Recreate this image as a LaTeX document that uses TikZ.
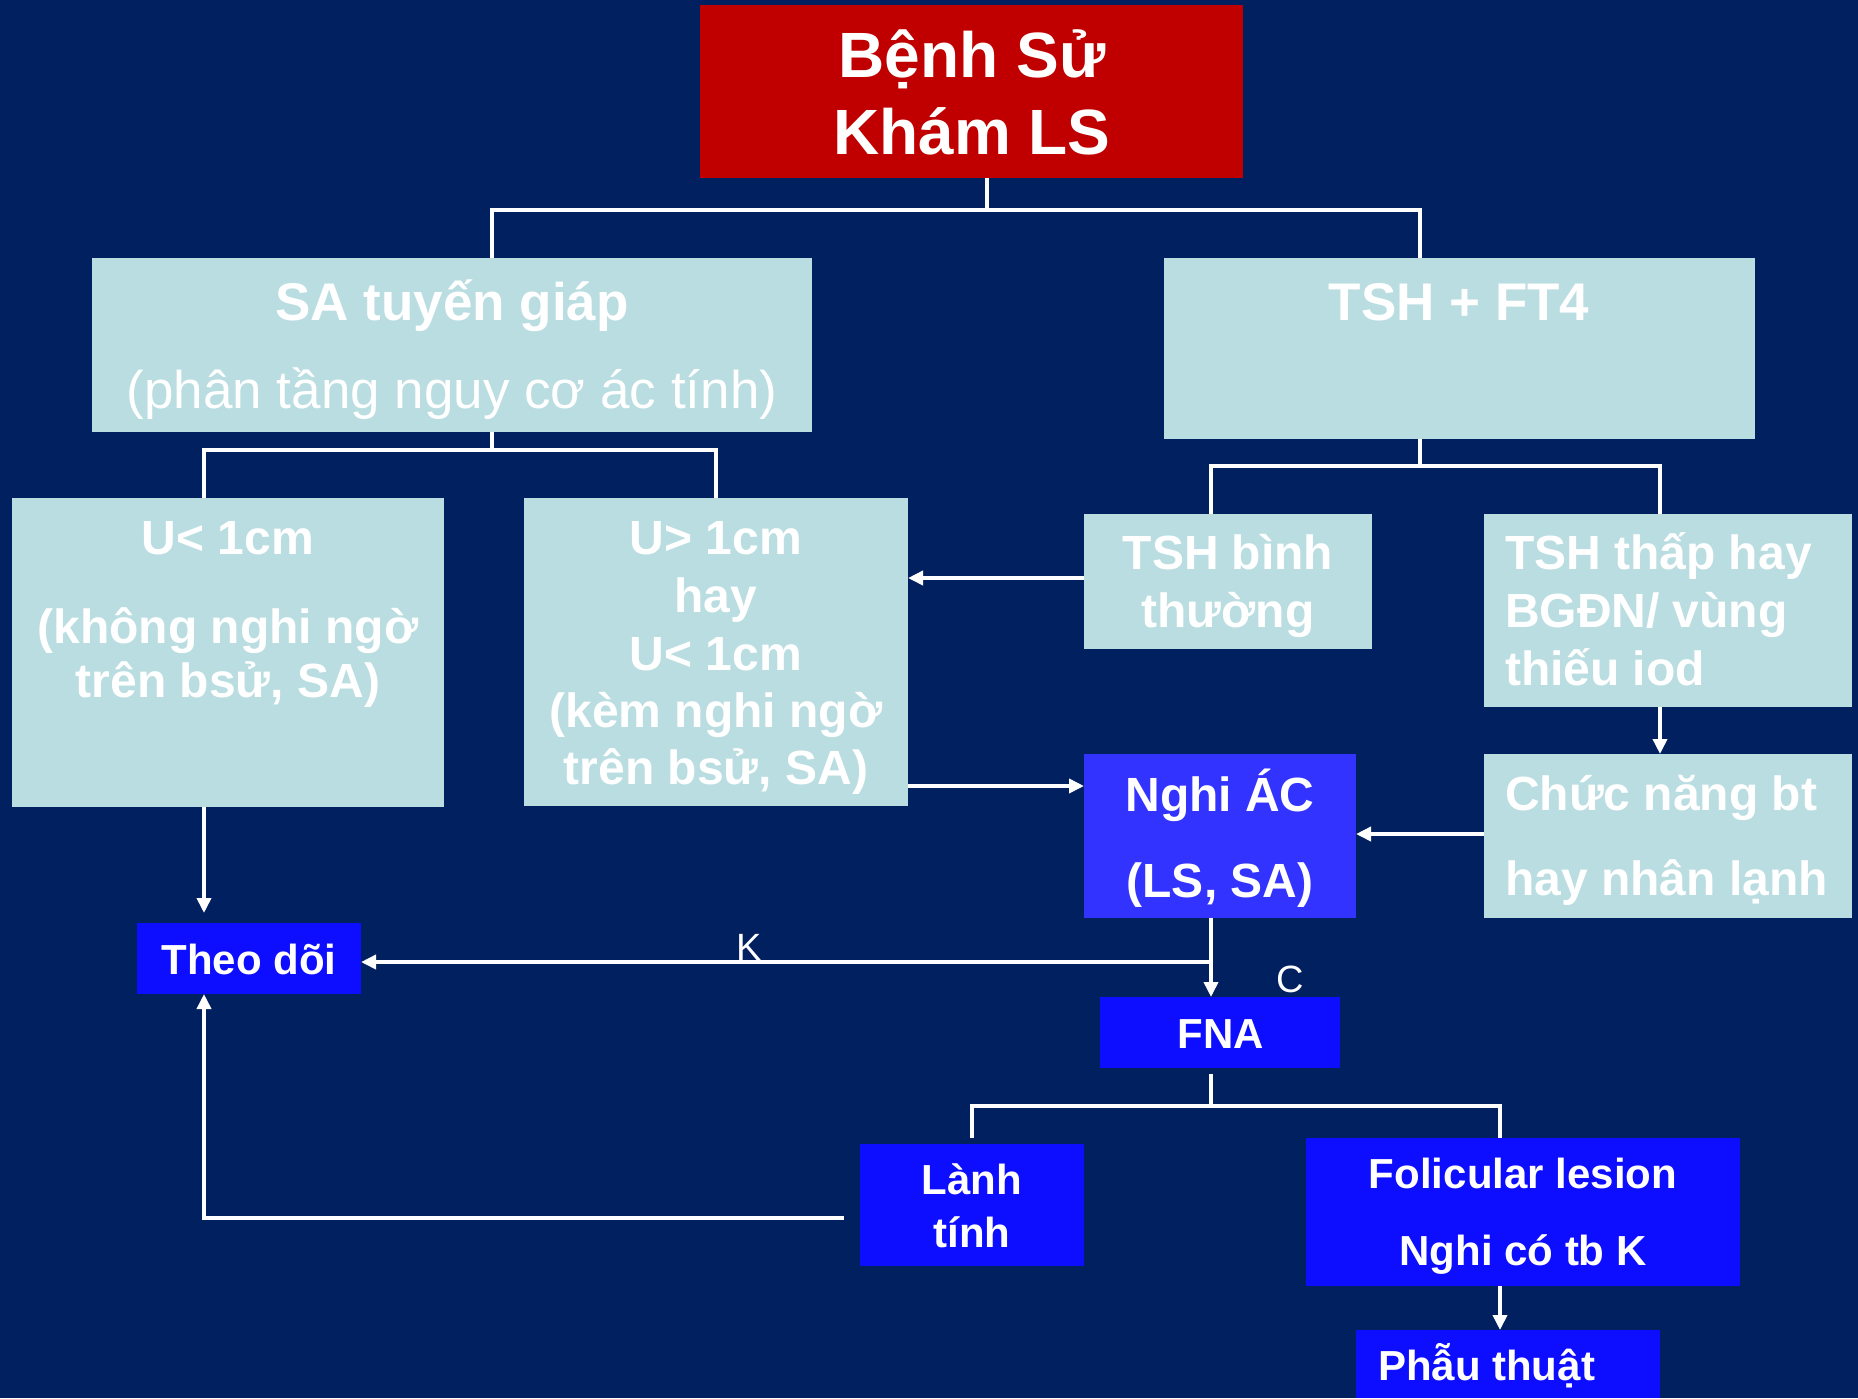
\documentclass[tikz,border=0pt]{standalone}
\usepackage{fontspec}
\setmainfont{Liberation Sans}
\usetikzlibrary{arrows.meta,fit}
\definecolor{bg}{RGB}{0,32,96}
\definecolor{redbox}{RGB}{192,0,0}
\definecolor{lightb}{RGB}{185,221,224}
\definecolor{blueb}{RGB}{13,13,255}
\definecolor{bluemid}{RGB}{51,51,255}
\begin{document}
\begin{tikzpicture}[x=0.5pt,y=-0.5pt,
  box/.style={inner sep=0pt, outer sep=0pt, draw=none},
  txt/.style={inner sep=0pt, outer sep=0pt, text=white, anchor=base},
  txtl/.style={txt, anchor=base west},
  ftop/.style={font=\bfseries\fontsize{32pt}{38pt}\selectfont},
  fsa/.style={font=\bfseries\fontsize{26.5pt}{30pt}\selectfont},
  fsar/.style={font=\fontsize{26.5pt}{30pt}\selectfont},
  flb/.style={font=\bfseries\fontsize{24pt}{28pt}\selectfont},
  fbl/.style={font=\bfseries\fontsize{21pt}{25pt}\selectfont},
  flab/.style={font=\fontsize{19pt}{22pt}\selectfont},
  conn/.style={draw=white, line width=1.8pt, line join=miter},
  arr/.style={conn, -{Triangle[length=7.5pt,width=7pt]}}]
\fill[bg] (0,0) rectangle (1858,1398);
\useasboundingbox (0,0) rectangle (1858,1398);

% boxes
\node[box, fill=redbox, fit={(700,5) (1243,178)}] (benh) {};
\node[box, fill=lightb, fit={(92,258) (812,432)}] (sa) {};
\node[box, fill=lightb, fit={(1164,258) (1755,439)}] (tsh) {};
\node[box, fill=lightb, fit={(12,498) (444,807)}] (u1) {};
\node[box, fill=lightb, fit={(524,498) (908,806)}] (u2) {};
\node[box, fill=lightb, fit={(1084,514) (1372,649)}] (tbt) {};
\node[box, fill=lightb, fit={(1484,514) (1852,707)}] (tth) {};
\node[box, fill=bluemid, fit={(1084,754) (1356,918)}] (nghi) {};
\node[box, fill=lightb, fit={(1484,754) (1852,918)}] (cnb) {};
\node[box, fill=blueb, fit={(137,923) (361,994)}] (theo) {};
\node[box, fill=blueb, fit={(1100,997) (1340,1068)}] (fna) {};
\node[box, fill=blueb, fit={(860,1144) (1084,1266)}] (lanh) {};
\node[box, fill=blueb, fit={(1306,1138) (1740,1286)}] (fol) {};
\node[box, fill=blueb, fit={(1356,1330) (1660,1398)}] (phau) {};

% texts
\node[txt, ftop] (benh1) at (972,77) {Bệnh Sử};
\node[txt, ftop] (benh2) at (972,154) {Khám LS};
\node[txt, fsa] (sa1) at (452,320) {SA tuyến giáp};
\node[txt, fsar] (sa2) at (452,408) {(phân tầng nguy cơ ác tính)};
\node[txt, fsa] (tsh1) at (1459,320) {TSH + FT4};
\node[txt, flb] (u1a) at (228,554) {U< 1cm};
\node[txt, flb] (u1b) at (228,643) {(không nghi ngờ};
\node[txt, flb] (u1c) at (228,697) {trên bsử, SA)};
\node[txt, flb] (u2a) at (716,554) {U> 1cm};
\node[txt, flb] (u2b) at (716,612) {hay};
\node[txt, flb] (u2c) at (716,670) {U< 1cm};
\node[txt, flb] (u2d) at (716,727) {(kèm nghi ngờ};
\node[txt, flb] (u2e) at (716,784) {trên bsử, SA)};
\node[txt, flb] (tbt1) at (1228,569) {TSH bình};
\node[txt, flb] (tbt2) at (1228,627) {thường};
\node[txtl, flb] (tth1) at (1505,569) {TSH thấp hay};
\node[txtl, flb] (tth2) at (1505,627) {BGĐN/ vùng};
\node[txtl, flb] (tth3) at (1505,685) {thiếu iod};
\node[txt, flb] (nghi1) at (1220,811) {Nghi ÁC};
\node[txt, flb] (nghi2) at (1220,897) {(LS, SA)};
\node[txtl, flb] (cnb1) at (1505,810) {Chức năng bt};
\node[txtl, flb] (cnb2) at (1505,895) {hay nhân lạnh};
\node[txt, fbl] (theo1) at (249,974) {Theo dõi};
\node[txt, fbl] (fna1) at (1221,1048) {FNA};
\node[txt, flab] (klab) at (749,960) {K};
\node[txt, flab] (clab) at (1290,992) {C};
\node[txt, fbl] (lanh1) at (972,1194) {Lành};
\node[txt, fbl] (lanh2) at (972,1247) {tính};
\node[txt, fbl] (fol1) at (1523,1188) {Folicular lesion};
\node[txt, fbl] (fol2) at (1523,1265) {Nghi có tb K};
\node[txtl, fbl] (phau1) at (1378,1380) {Phẫu thuật};

% junction coordinates
\coordinate (j1) at (987,210);
\coordinate (j1l) at (492,210);
\coordinate (j1r) at (1420,210);
\coordinate (j2) at (492,450);
\coordinate (j2l) at (204,450);
\coordinate (j2r) at (716,450);
\coordinate (j3) at (1420,466);
\coordinate (j3l) at (1211,466);
\coordinate (j3r) at (1660,466);
\coordinate (r578) at (0,578);
\coordinate (r786) at (0,786);
\coordinate (r834) at (0,834);
\coordinate (jk) at (1211,962);
\coordinate (fnaout) at (1211,1074);
\coordinate (j4) at (1211,1106);
\coordinate (j4l) at (972,1106);
\coordinate (j4r) at (1500,1106);
\coordinate (lanhin) at (972,1138);
\coordinate (lanhout) at (844,1218);
\coordinate (j5) at (204,1218);

% connectors
\draw[conn] (benh.south -| j1) -- (j1);
\draw[conn] (sa.north -| j1l) -- (j1l) -- (j1r) -- (tsh.north -| j1r);
\draw[conn] (sa.south -| j2) -- (j2);
\draw[conn] (u1.north -| j2l) -- (j2l) -- (j2r) -- (u2.north -| j2r);
\draw[conn] (tsh.south -| j3) -- (j3);
\draw[conn] (tbt.north -| j3l) -- (j3l) -- (j3r) -- (tth.north -| j3r);
\draw[arr] (tbt.west |- r578) -- (u2.east |- r578);
\draw[arr] (u2.east |- r786) -- (nghi.west |- r786);
\draw[arr] (tth.south -| j3r) -- (cnb.north -| j3r);
\draw[arr] (cnb.west |- r834) -- (nghi.east |- r834);
\draw[arr, shorten >=5pt] (u1.south -| j2l) -- (theo.north -| j2l);
\draw[conn] (nghi.south -| jk) -- (jk);
\draw[arr] (jk) -- (fna.north -| jk);
\draw[arr] (jk) -- (theo.east |- jk);
\draw[conn] (fnaout) -- (j4);
\draw[conn] (lanhin) -- (j4l) -- (j4r) -- (fol.north -| j4r);
\draw[arr] (fol.south -| j4r) -- (phau.north -| j4r);
\draw[arr] (lanhout) -- (j5) -- (theo.south -| j5);
\end{tikzpicture}
\end{document}
